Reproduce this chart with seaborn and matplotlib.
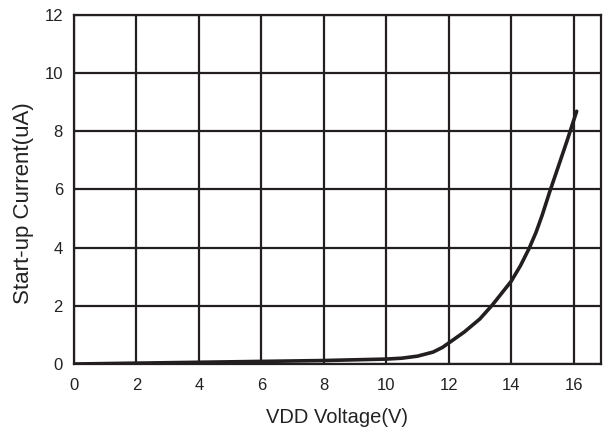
import matplotlib
matplotlib.use("Agg")
import matplotlib.pyplot as plt
import seaborn as sns
import pandas as pd

voltage = [0, 2, 4, 6, 8, 10, 10.5, 11, 11.5, 11.8, 12, 12.5, 13, 13.4, 14,
           14.3, 14.58, 14.8, 15, 15.23, 15.5, 15.68, 15.8, 16.1]
current = [0, 0.03, 0.06, 0.09, 0.12, 0.17, 0.2, 0.27, 0.41, 0.57, 0.72, 1.1, 1.55,
           2.03, 2.84, 3.38, 3.98, 4.53, 5.13, 5.9, 6.75, 7.32, 7.7, 8.69]
x_ticks = [0, 2, 4, 6, 8, 10, 12, 14, 16]
y_ticks = [0, 2, 4, 6, 8, 10, 12]

sns.set_style("white")
plt.rcParams['font.family'] = ['Liberation Sans', 'DejaVu Sans']

df = pd.DataFrame({"VDD Voltage(V)": voltage, "Start-up Current(uA)": current})

fig = plt.figure(figsize=(6.03, 4.28), dpi=100)
ax = fig.add_axes([0.1227, 0.1495, 0.874, 0.8155])
ink = "#231f20"
sns.lineplot(data=df, x="VDD Voltage(V)", y="Start-up Current(uA)", ax=ax,
             color=ink, linewidth=2.6, zorder=3)
ax.set_xlim(0, 16.88)
ax.set_ylim(0, 12)
ax.set_xticks(x_ticks)
ax.set_yticks(y_ticks)
ax.grid(True, color=ink, linewidth=1.6)
ax.set_axisbelow(True)
for s in ax.spines.values():
    s.set_color(ink)
    s.set_linewidth(1.6)
ax.tick_params(axis='y', length=0, labelsize=12, colors="#222222", pad=8)
ax.tick_params(axis='x', length=0, labelsize=12, colors="#222222", pad=10)
ax.set_xlabel("VDD Voltage(V)", fontsize=14.5, color="#222222", labelpad=11)
ax.set_ylabel("Start-up Current(uA)", fontsize=16, color="#222222")
ax.yaxis.set_label_coords(-0.075, 0.46)
fig.savefig("out.png", dpi=100)
